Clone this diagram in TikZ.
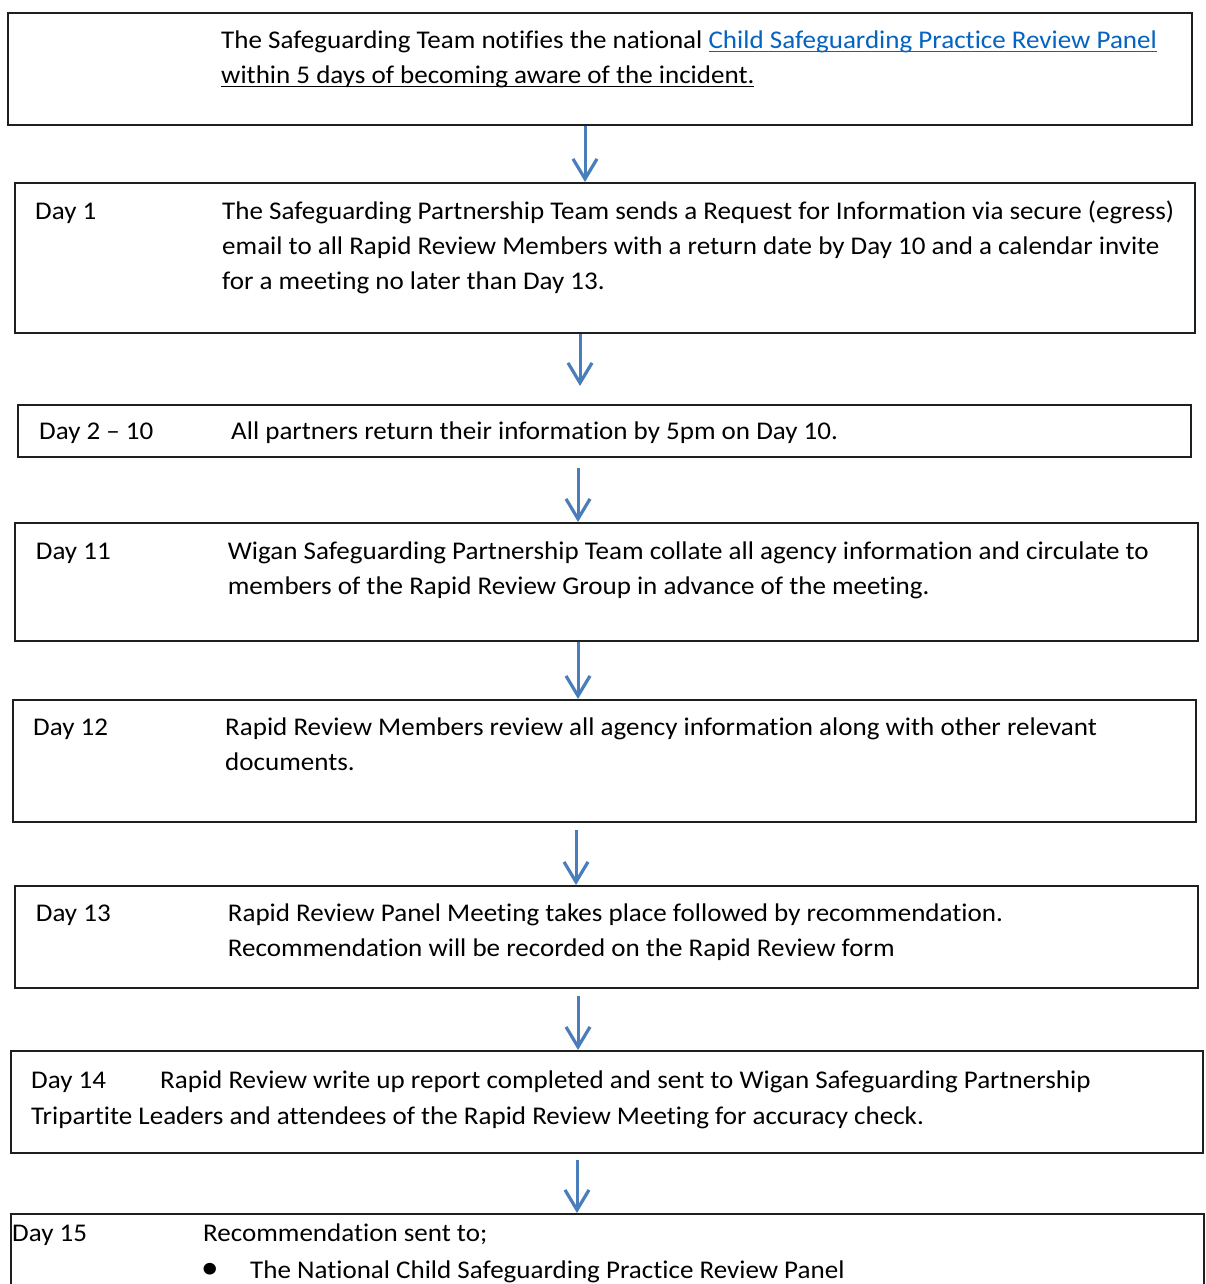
\documentclass[tikz,border=0pt]{standalone}
\usepackage{fontspec}
\setmainfont{Carlito}[FakeStretch=1.06,Ligatures={NoCommon}]
\usetikzlibrary{arrows.meta,calc}
\definecolor{arrblue}{HTML}{4A7EBB}
\definecolor{linkblue}{HTML}{0563C1}
\newcommand\myul[1]{\setbox0\hbox{#1}\rlap{\rule[-4pt]{\wd0}{1.6pt}}\box0}
\tikzset{
  stepbox/.style={draw=black!88, line width=2pt, anchor=north west, inner sep=0pt},
  txt/.style={anchor=base west, inner sep=0pt, font=\fontsize{25.5}{35}\selectfont},
  arr/.style={draw=arrblue, line width=3pt, -{Straight Barb[length=20pt,width=24pt,line width=3.2pt]}}
}
\begin{document}
\begin{tikzpicture}[x=1pt,y=-1pt]
\useasboundingbox (0,0) rectangle (1206,1284);
\clip (0,0) rectangle (1206,1284);
\fill[white] (0,0) rectangle (1206,1284);
% boxes
\node[stepbox, minimum width=1184pt, minimum height=112pt] (b1) at (7,12) {};
\node[stepbox, minimum width=1180.5pt, minimum height=150pt] (b2) at (13.5,182) {};
\node[stepbox, minimum width=1173pt, minimum height=52pt] (b3) at (17,404) {};
\node[stepbox, minimum width=1183.5pt, minimum height=118pt] (b4) at (13.5,522) {};
\node[stepbox, minimum width=1183pt, minimum height=122pt] (b5) at (12,699) {};
\node[stepbox, minimum width=1183.5pt, minimum height=102pt] (b6) at (13.5,885) {};
\node[stepbox, minimum width=1192pt, minimum height=102pt] (b7) at (10,1050) {};
\node[stepbox, minimum width=1193pt, minimum height=120pt] (b8) at (10,1213) {};
% texts
\node[txt] (t1a) at (221,48.5) {The Safeguarding Team notifies the national {\color{linkblue}\myul{Child Safeguarding Practice Review Panel}}};
\node[txt] (t1b) at (221,83.5) {\myul{within 5 days of becoming aware of the incident.}};
\node[txt] (d1) at (35,219) {Day 1};
\node[txt] (t2a) at (222,219) {The Safeguarding Partnership Team sends a Request for Information via secure (egress)};
\node[txt] (t2b) at (222,254) {email to all Rapid Review Members with a return date by Day 10 and a calendar invite};
\node[txt] (t2c) at (222,289) {for a meeting no later than Day 13.};
\node[txt] (d2) at (39,439) {Day 2 – 10};
\node[txt] (t3a) at (231,439) {All partners return their information by 5pm on Day 10.};
\node[txt] (d3) at (35.7,559) {Day 11};
\node[txt] (t4a) at (227.7,559) {Wigan Safeguarding Partnership Team collate all agency information and circulate to};
\node[txt] (t4b) at (227.7,594) {members of the Rapid Review Group in advance of the meeting.};
\node[txt] (d4) at (33,735) {Day 12};
\node[txt] (t5a) at (225,735) {Rapid Review Members review all agency information along with other relevant};
\node[txt] (t5b) at (225,770) {documents.};
\node[txt] (d5) at (35.7,921) {Day 13};
\node[txt] (t6a) at (227.7,921) {Rapid Review Panel Meeting takes place followed by recommendation.};
\node[txt] (t6b) at (227.7,956) {Recommendation will be recorded on the Rapid Review form};
\node[txt] (d6) at (31,1088) {Day 14};
\node[txt] (t7a) at (160,1088) {Rapid Review write up report completed and sent to Wigan Safeguarding Partnership};
\node[txt] (t7b) at (31,1124) {Tripartite Leaders and attendees of the Rapid Review Meeting for accuracy check.};
\node[txt] (d7) at (12,1241) {Day 15};
\node[txt] (t8a) at (203,1241) {Recommendation sent to;};
\node[txt] (bul) at (201,1278) {\scalebox{1.3}{•}};
\node[txt] (t8b) at (250,1278) {The National Child Safeguarding Practice Review Panel};
% arrows
\draw[arr] ($(b1.south west)+(578,0)$) -- ($(b2.north west)+(571.5,0)$);
\draw[arr] ($(b2.south west)+(566.5,0)$) -- ($(b3.north west)+(563,-18)$);
\draw[arr] ($(b3.south west)+(561,10)$) -- ($(b4.north west)+(564.5,0)$);
\draw[arr] ($(b4.south west)+(564.5,0)$) -- ($(b5.north west)+(566,0)$);
\draw[arr] ($(b5.south west)+(564,7)$) -- ($(b6.north west)+(562.5,0)$);
\draw[arr] ($(b6.south west)+(564.5,7)$) -- ($(b7.north west)+(568,0)$);
\draw[arr] ($(b7.south west)+(567,6)$) -- ($(b8.north west)+(567,0)$);
\end{tikzpicture}
\end{document}
